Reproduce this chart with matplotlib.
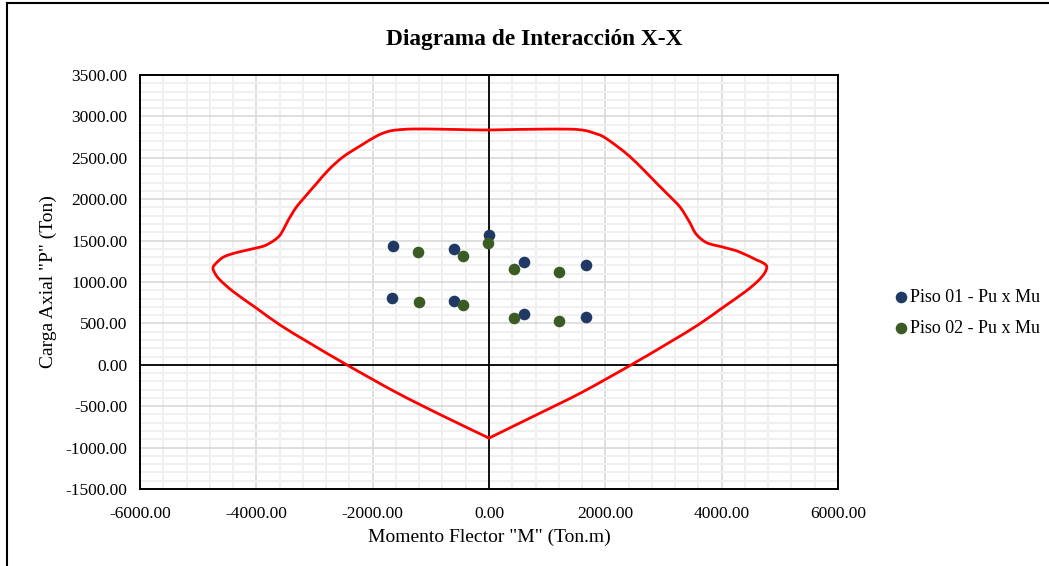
import matplotlib
matplotlib.use("Agg")
import numpy as np
import matplotlib.pyplot as plt
from matplotlib.lines import Line2D
from matplotlib.path import Path
from matplotlib.patches import PathPatch
from matplotlib.transforms import IdentityTransform
from matplotlib.ticker import MultipleLocator, FormatStrFormatter

plt.rcParams['font.family'] = ['Liberation Serif', 'DejaVu Serif']

# Interaction curve (Mn, Pn), closed loop starting at the tension vertex
curve_m = [0, -800, -1590, -2446, -3077, -3593, -3994, -4395, -4624, -4715, -4739,
           -4600, -4481, -4280, -4023, -3850, -3700, -3600, -3530, -3450, -3380,
           -3306, -3150, -2962, -2750, -2505, -2200, -1931, -1750, -1587, -1300,
           -800, -300, 0, 300, 800, 1392, 1650, 1800, 1965, 2200, 2424, 2650, 2883,
           3100, 3290, 3450, 3560, 3742, 4028, 4300, 4602, 4700, 4774, 4740,
           4620, 4400, 4000, 3593, 3077, 2446, 1590, 800, 0]
curve_p = [-885, -615, -335, 0, 260, 481, 682, 883, 1024, 1110, 1185,
           1285, 1326, 1366, 1407, 1440, 1500, 1560, 1640, 1749, 1830,
           1910, 2040, 2192, 2360, 2513, 2650, 2763, 2815, 2836, 2848,
           2845, 2838, 2836, 2840, 2845, 2846, 2830, 2800, 2755, 2640, 2513, 2360, 2192,
           2040, 1900, 1720, 1580, 1475, 1420, 1365, 1266, 1235, 1190, 1110,
           1010, 880, 682, 481, 260, 0, -335, -610, -885]

# Demand points (Mu, Pu)
piso01_m = [-1650, -600, 0, 600, 1670, -1660, -600, 600, 1670]
piso01_p = [1440, 1400, 1565, 1240, 1210, 805, 775, 615, 580]
piso02_m = [-1220, -450, -20, 430, 1210, -1210, -440, 430, 1210]
piso02_p = [1360, 1310, 1475, 1160, 1120, 760, 725, 565, 530]


def smooth_path(ax, xs, ys, corners=(0, -1)):
    """Cardinal-spline Bezier path through the points, in display space."""
    pts = ax.transData.transform(np.column_stack([xs, ys]))
    n = len(pts)
    sharp = {k % n for k in corners}
    verts = [pts[0]]
    codes = [Path.MOVETO]
    for i in range(n - 1):
        p0 = pts[i - 1] if i > 0 else pts[i]
        p1, p2 = pts[i], pts[i + 1]
        p3 = pts[i + 2] if i + 2 < n else pts[i + 1]
        t1 = np.zeros(2) if i in sharp else (p2 - p0) / 6.0
        t2 = np.zeros(2) if (i + 1) in sharp else (p3 - p1) / 6.0
        verts += [p1 + t1, p2 - t2, p2]
        codes += [Path.CURVE4] * 3
    return Path(verts, codes)


fig = plt.figure(figsize=(10.49, 5.66), dpi=100)
ax = fig.add_axes([140 / 1049, 1 - 489 / 566, 698 / 1049, 414 / 566])

ax.set_xlim(-6000, 6000)
ax.set_ylim(-1500, 3500)
ax.set_axisbelow(True)
ax.xaxis.set_major_locator(MultipleLocator(2000))
ax.xaxis.set_minor_locator(MultipleLocator(400))
ax.yaxis.set_major_locator(MultipleLocator(500))
ax.yaxis.set_minor_locator(MultipleLocator(100))
ax.xaxis.set_major_formatter(FormatStrFormatter('%.2f'))
ax.yaxis.set_major_formatter(FormatStrFormatter('%.2f'))
ax.grid(which='minor', color='#f0f0f0', linewidth=1.4)
ax.grid(which='major', color='#d9d9d9', linewidth=1.2)
ax.tick_params(which='both', length=0, labelsize=12.5)
ax.tick_params(axis='x', pad=12)
ax.tick_params(axis='y', pad=9)
for s in ax.spines.values():
    s.set_color('black')
    s.set_linewidth(1.4)
    s.set_zorder(4)

ax.axhline(0, color='black', linewidth=1.3, zorder=1.5)
ax.axvline(0, color='black', linewidth=1.3, zorder=1.5)

# interaction diagram drawn as a smoothed line
path = smooth_path(ax, curve_m, curve_p)
patch = PathPatch(path, facecolor='none', edgecolor='#ff0000', linewidth=2.0,
                  capstyle='round', joinstyle='round', zorder=2)
patch.set_transform(IdentityTransform())
ax.add_artist(patch)

ax.scatter(piso01_m, piso01_p, s=70, color='#1f3864', zorder=3,
           label='Piso 01 - Pu x Mu', linewidths=0)
ax.scatter(piso02_m, piso02_p, s=70, color='#3b5b25', zorder=3,
           label='Piso 02 - Pu x Mu', linewidths=0)

fig.text(534 / 1049, 1 - 40 / 566, 'Diagrama de Interacción X-X', fontsize=16.8,
         fontweight='bold', ha='center', va='center')
ax.set_xlabel('Momento Flector "M" (Ton.m)', fontsize=14, labelpad=5)
ax.set_ylabel('Carga Axial "P" (Ton)', fontsize=14, labelpad=6)

ax.legend(loc='center left', bbox_to_anchor=(892 / 1049, 1 - 313 / 566),
          bbox_transform=fig.transFigure, frameon=False, fontsize=13,
          handletextpad=0.0, labelspacing=0.75, borderpad=0, handlelength=1.0,
          borderaxespad=0)

# outer chart frame (left and top edges)
fig.add_artist(Line2D([7 / 1049, 7 / 1049], [0, 1 - 3 / 566],
                      transform=fig.transFigure, color='black', linewidth=1.5))
fig.add_artist(Line2D([7 / 1049, 1], [1 - 3 / 566, 1 - 3 / 566],
                      transform=fig.transFigure, color='black', linewidth=1.5))

fig.savefig('out.png', dpi=100)
